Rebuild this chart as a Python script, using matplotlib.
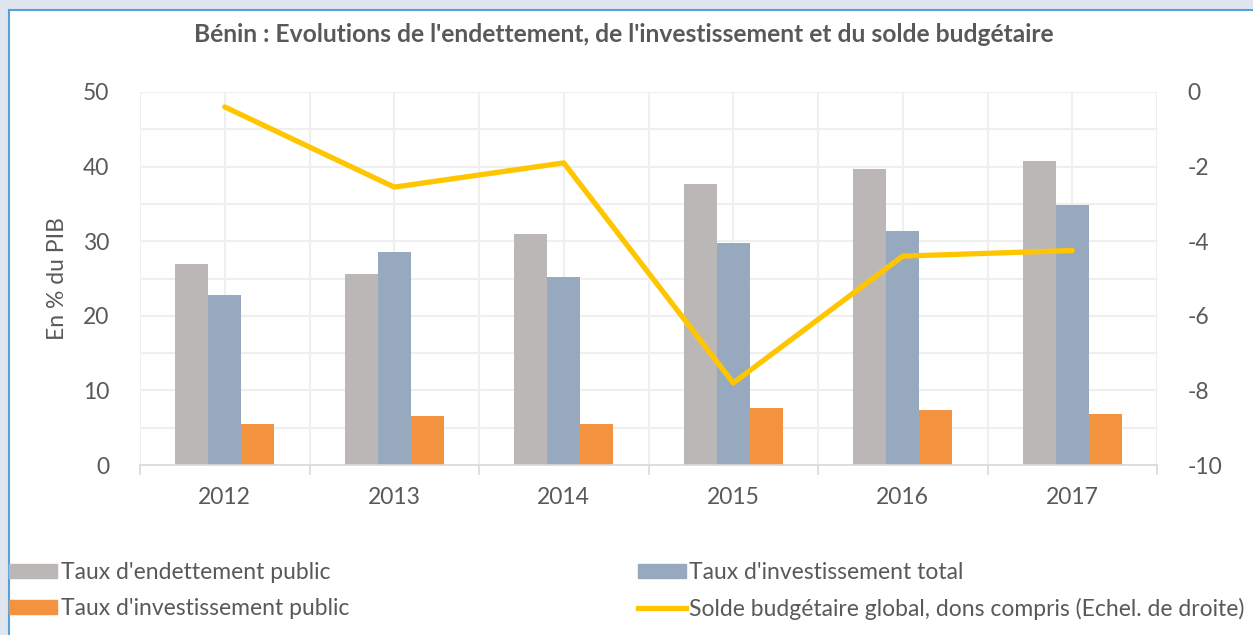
import matplotlib.pyplot as plt
from matplotlib.patches import Rectangle
from matplotlib.lines import Line2D
import numpy as np

# Data
years = ['2012', '2013', '2014', '2015', '2016', '2017']
endettement = [26.9, 25.6, 31.0, 37.7, 39.7, 40.8]
invest_total = [22.8, 28.6, 25.2, 29.8, 31.4, 34.9]
invest_public = [5.5, 6.6, 5.5, 7.6, 7.4, 6.8]
solde = [-0.4, -2.55, -1.9, -7.8, -4.4, -4.25]

c_grey = '#bbb7b6'
c_blue = '#97a9bf'
c_orange = '#f39340'
c_line = '#ffc600'
c_text = '#595959'
fs = 16.5

plt.rcParams['font.family'] = ['Lato', 'DejaVu Sans']
plt.rcParams['axes.unicode_minus'] = False

fig = plt.figure(figsize=(12.53, 6.35), dpi=100, facecolor='#dfe6f0')
# white chart area with blue frame
fig.patches.append(Rectangle((9 / 1253, -0.01), 1.0, 1.01 - 10 / 635, transform=fig.transFigure,
                             facecolor='white', edgecolor='#5a9fd4', linewidth=1.5, zorder=-10))

ax = fig.add_axes([140 / 1253, 1 - 465 / 635, 1017 / 1253, 373 / 635])
ax.set_facecolor('none')
x = np.arange(len(years))
w = 0.194
ax.bar(x - w, endettement, w, color=c_grey, zorder=2)
ax.bar(x, invest_total, w, color=c_blue, zorder=2)
ax.bar(x + w, invest_public, w, color=c_orange, zorder=2)

ax.set_xlim(-0.5, len(years) - 0.5)
ax.set_ylim(0, 50)
ax.set_yticks(range(0, 51, 10))
ax.set_yticks(range(0, 51, 5), minor=True)
ax.set_xticks(x)
ax.set_xticklabels(years)
ax.set_xticks(np.arange(-0.5, len(years), 1.0), minor=True)
ax.grid(True, which='both', color='#efefef', linewidth=1.5, zorder=0)
ax.tick_params(axis='x', which='major', length=0, pad=16, labelsize=fs, labelcolor=c_text)
ax.tick_params(axis='x', which='minor', length=7, color='#d9d9d9', width=1.2)
ax.tick_params(axis='y', which='both', length=0, pad=22, labelsize=fs, labelcolor=c_text)
for s in ['top', 'left', 'right']:
    ax.spines[s].set_visible(False)
ax.spines['bottom'].set_color('#d9d9d9')
ax.spines['bottom'].set_linewidth(1.2)
ax.set_ylabel('En % du PIB', fontsize=fs, color=c_text)
ax.yaxis.set_label_coords(-0.071, 0.5)

ax2 = ax.twinx()
ax2.plot(x, solde, color=c_line, linewidth=3.8, solid_capstyle='round', zorder=3)
ax2.set_ylim(-10, 0)
ax2.set_yticks(range(-10, 1, 2))
ax2.tick_params(axis='y', length=0, pad=22, labelsize=fs, labelcolor=c_text)
for s in ax2.spines.values():
    s.set_visible(False)

fig.text(0.498, 1 - 34 / 635, "Bénin : Evolutions de l'endettement, de l'investissement et du solde budgétaire",
         ha='center', va='center', fontsize=17.7, fontweight='bold', color=c_text)

handles = [
    Rectangle((0, 0), 1, 1, color=c_grey),
    Rectangle((0, 0), 1, 1, color=c_orange),
    Rectangle((0, 0), 1, 1, color=c_blue),
    Line2D([], [], color=c_line, linewidth=3.8),
]
labels = ["Taux d'endettement public", "Taux d'investissement public",
          "Taux d'investissement total", "Solde budgétaire global, dons compris (Echel. de droite)"]
leg = fig.legend(handles, labels, ncol=2, loc='upper left', bbox_to_anchor=(9 / 1253, 1 - 562 / 635),
                 frameon=False, fontsize=fs, handlelength=2.1, handleheight=0.55, handletextpad=0.15,
                 columnspacing=12.6, labelspacing=0.65, borderaxespad=0, borderpad=0)
for t in leg.get_texts():
    t.set_color(c_text)

fig.savefig('out.png', dpi=100, facecolor=fig.get_facecolor())
